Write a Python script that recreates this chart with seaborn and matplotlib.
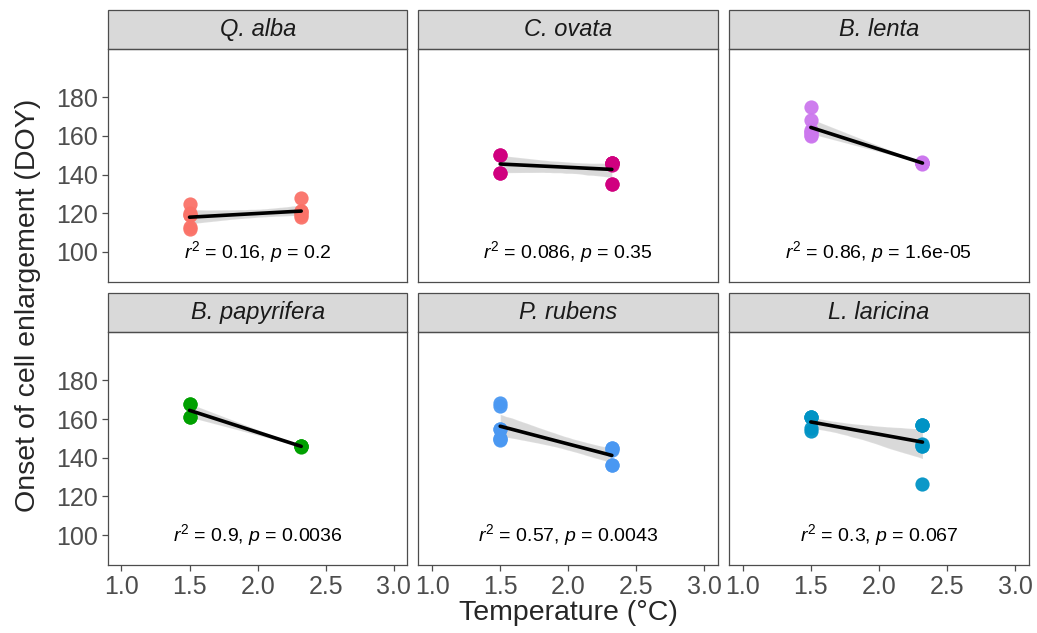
import numpy as np
import pandas as pd
import matplotlib
matplotlib.use("Agg")
import matplotlib.pyplot as plt
import seaborn as sns
from matplotlib.patches import Rectangle

# ---- data ----
species = ["Q. alba", "C. ovata", "B. lenta", "B. papyrifera", "P. rubens", "L. laricina"]
colors = ["#FA7268", "#D0007F", "#CC77EE", "#00A000", "#4A98F2", "#0093C5"]
temp_low = 1.5
temp_high = 2.32
doy_low = [
    [125, 120, 119, 112, 113, 119],
    [150, 141, 150, 141],
    [175, 168.5, 162, 160.5, 160, 162, 163],
    [168, 161, 168, 161],
    [168.5, 167, 155, 149.5, 150, 155, 149],
    [161, 161, 154, 161, 155.5],
]
doy_high = [
    [128, 121, 120, 119, 118, 121],
    [146, 146, 135, 135, 146, 146, 145],
    [146, 146, 146, 145.5, 146.5, 146],
    [146, 146, 146, 145.5],
    [145, 136, 145, 136, 144],
    [157, 146, 126.5, 157, 157, 146, 147],
]
labels = [
    r"$r^2$ = 0.16, $p$ = 0.2",
    r"$r^2$ = 0.086, $p$ = 0.35",
    r"$r^2$ = 0.86, $p$ = 1.6e-05",
    r"$r^2$ = 0.9, $p$ = 0.0036",
    r"$r^2$ = 0.57, $p$ = 0.0043",
    r"$r^2$ = 0.3, $p$ = 0.067",
]
xticks = [1.0, 1.5, 2.0, 2.5, 3.0]
yticks = [100, 120, 140, 160, 180]

rows = []
for sp, lo, hi in zip(species, doy_low, doy_high):
    for v in lo:
        rows.append((sp, temp_low, v))
    for v in hi:
        rows.append((sp, temp_high, v))
df = pd.DataFrame(rows, columns=["species", "temp", "doy"])

# ---- style ----
sns.set_theme(style="white")
plt.rcParams["font.family"] = ["Liberation Sans", "DejaVu Sans"]
plt.rcParams["mathtext.fontset"] = "custom"
plt.rcParams["mathtext.rm"] = "Liberation Sans"
plt.rcParams["mathtext.it"] = "Liberation Sans:italic"

g = sns.FacetGrid(df, col="species", col_wrap=3, col_order=species,
                  sharex=True, sharey=True, despine=False, height=3, aspect=1.2)
fig = g.figure
fig.set_size_inches(10.37, 6.33)
fig.set_dpi(100)

for i, (ax, sp, c, lab) in enumerate(zip(g.axes.flat, species, colors, labels)):
    sub = df[df["species"] == sp]
    sns.regplot(data=sub, x="temp", y="doy", ax=ax, ci=95, seed=3,
                scatter_kws={"s": 105, "color": c, "alpha": 0.95, "linewidths": 0, "zorder": 2},
                line_kws={"color": "black", "lw": 2.6, "zorder": 4})
    ax.set_xlim(0.9, 3.1)
    ax.set_ylim(84.5, 205)
    ax.set_xticks(xticks)
    ax.set_yticks(yticks)
    ax.set_xlabel("")
    ax.set_ylabel("")
    ax.set_title("")
    for s in ax.spines.values():
        s.set_color("#4D4D4D")
        s.set_linewidth(0.9)
    col = i % 3
    row = i // 3
    ax.tick_params(axis="both", labelsize=18, labelcolor="#4D4D4D", color="#4D4D4D",
                   length=4, width=0.9, pad=3)
    ax.tick_params(axis="x", bottom=(row == 1), labelbottom=(row == 1))
    ax.tick_params(axis="y", left=(col == 0), labelleft=(col == 0))
    if row == 1:
        ax.set_xticklabels([f"{t:.1f}" for t in xticks])
    # strip
    strip_h = 39 / 233
    ax.add_patch(Rectangle((0, 1), 1, strip_h, transform=ax.transAxes, clip_on=False,
                           facecolor="#D9D9D9", edgecolor="#4D4D4D", lw=0.9))
    ax.text(0.5, 1 + strip_h / 2, sp, transform=ax.transAxes, ha="center", va="center",
            fontsize=17, style="italic", color="#1A1A1A")
    ax.text(2.0, 100, lab, ha="center", va="center", fontsize=14, color="black")

fig.subplots_adjust(left=0.104, right=0.992, bottom=0.1074, top=0.9226,
                    wspace=0.037, hspace=0.215)
fig.text(0.548, 0.031, "Temperature (°C)", ha="center", va="center", fontsize=20.5)
fig.text(0.027, 0.518, "Onset of cell enlargement (DOY)", ha="center", va="center",
         fontsize=20.5, rotation=90)

fig.savefig("out.png", dpi=100)
